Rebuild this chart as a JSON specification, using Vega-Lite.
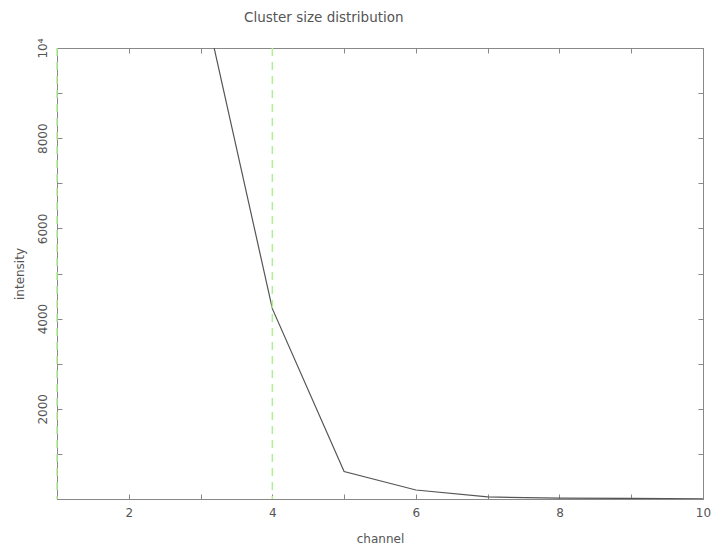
{
  "$schema": "https://vega.github.io/schema/vega-lite/v6.json",
  "width": 646,
  "height": 451,
  "autosize": {"type": "none"},
  "padding": {"left": 57, "top": 48, "right": 10, "bottom": 54},
  "background": "white",
  "title": {
    "text": "Cluster size distribution",
    "anchor": "start",
    "dx": 231,
    "offset": 13,
    "font": "DejaVu Sans",
    "fontSize": 13.5,
    "fontWeight": "normal",
    "color": "#555555"
  },
  "config": {
    "view": {"stroke": "#888888", "strokeWidth": 1},
    "axis": {
      "grid": false,
      "domainColor": "#888888",
      "tickColor": "#888888",
      "labelColor": "#555555",
      "titleColor": "#555555",
      "labelFont": "DejaVu Sans",
      "titleFont": "DejaVu Sans",
      "labelFontSize": 12,
      "titleFontSize": 12,
      "titleFontWeight": "normal"
    }
  },
  "datasets": {
    "series": [
      {"channel": 3, "intensity": 11350},
      {"channel": 4, "intensity": 4220},
      {"channel": 5, "intensity": 610},
      {"channel": 6, "intensity": 200},
      {"channel": 7, "intensity": 45},
      {"channel": 8, "intensity": 20},
      {"channel": 9, "intensity": 12},
      {"channel": 10, "intensity": 6}
    ],
    "markers": [
      {"channel": 1},
      {"channel": 4}
    ]
  },
  "layer": [
    {
      "data": {"name": "series"},
      "mark": {"type": "line", "color": "#555555", "strokeWidth": 1.2, "clip": true},
      "encoding": {
        "x": {
          "field": "channel", "type": "quantitative",
          "scale": {"domain": [1, 10], "nice": false, "zero": false},
          "axis": {
            "orient": "bottom",
            "title": "channel",
            "titlePadding": 15,
            "values": [1, 2, 3, 4, 5, 6, 7, 8, 9, 10],
            "labelExpr": "datum.value % 2 == 0 ? datum.label : ''",
            "tickSize": -5,
            "labelPadding": 13,
            "labelFlush": false,
            "labelOverlap": false
          }
        },
        "y": {
          "field": "intensity", "type": "quantitative",
          "scale": {"domain": [0, 10000], "nice": false},
          "axis": {
            "orient": "left",
            "title": "intensity",
            "titlePadding": 10,
            "values": [0, 1000, 2000, 3000, 4000, 5000, 6000, 7000, 8000, 9000, 10000],
            "format": "d",
            "labelExpr": "datum.value == 10000 ? '10⁴' : (datum.value % 2000 == 0 && datum.value > 0 ? datum.label : '')",
            "labelAngle": -90,
            "tickSize": -5,
            "labelPadding": 13,
            "labelFlush": false,
            "labelOverlap": false
          }
        }
      }
    },
    {
      "data": {"name": "markers"},
      "mark": {"type": "rule", "color": "#b0f090", "strokeWidth": 1.5, "strokeDash": [8, 6]},
      "encoding": {
        "x": {
          "field": "channel", "type": "quantitative",
          "axis": {
            "orient": "top",
            "title": null,
            "values": [1, 2, 3, 4, 5, 6, 7, 8, 9, 10],
            "labels": false,
            "tickSize": -5
          }
        }
      }
    },
    {
      "data": {"name": "markers"},
      "mark": {"type": "rule", "opacity": 0},
      "encoding": {
        "y": {
          "datum": 0, "type": "quantitative",
          "axis": {
            "orient": "right",
            "title": null,
            "values": [0, 1000, 2000, 3000, 4000, 5000, 6000, 7000, 8000, 9000, 10000],
            "labels": false,
            "tickSize": -5
          }
        }
      }
    }
  ],
  "resolve": {"axis": {"x": "independent", "y": "independent"}}
}
